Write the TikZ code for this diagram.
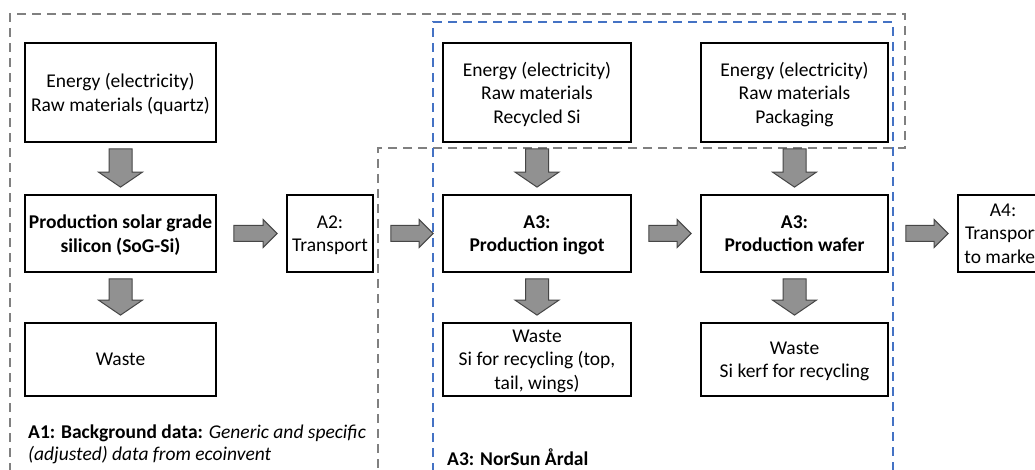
\documentclass[tikz,border=0pt]{standalone}
\usepackage{fontspec}
\setmainfont{Carlito}
\usetikzlibrary{calc}
\definecolor{dgray}{RGB}{128,128,128}
\definecolor{dblue}{RGB}{68,114,196}
\definecolor{afill}{RGB}{145,145,145}
\definecolor{aline}{RGB}{70,70,70}
\tikzset{
  box/.style={draw=black,line width=1.8pt,align=center,inner sep=0pt,
    font=\fontsize{19.5}{23.5}\selectfont, text depth=-1pt},
  inbox/.style={box,minimum height=99pt},
  midbox/.style={box,minimum height=77pt},
  wbox/.style={box,minimum height=73pt},
  grayframe/.style={draw=dgray,line width=1.6pt,dash pattern=on 9pt off 6pt},
  blueframe/.style={draw=dblue,line width=1.6pt,dash pattern=on 9pt off 6pt},
  barrow/.style={fill=afill,draw=aline,line width=1pt,line join=miter},
  lbl/.style={anchor=west,align=left,inner sep=0pt,font=\fontsize{19.5}{22}\selectfont}
}
\newcommand\downarr[2]{%
  \draw[barrow] let \p1=($(#1.south)+(0,6)$), \p2=($(#2.north)+(0,-7)$) in
   (\x1-11.5pt,\y1) -- (\x1+11.5pt,\y1) -- (\x1+11.5pt,\y2+15pt) -- (\x1+22pt,\y2+15pt)
   -- (\x1,\y2) -- (\x1-22pt,\y2+15pt) -- (\x1-11.5pt,\y2+15pt) -- cycle;}
\newcommand\rightarr[2]{%
  \draw[barrow] let \p1=($(#1.east)+(17,0)$), \p2=($(#2.west)+(-9,0)$) in
   (\x1,\y1+8pt) -- (\x2-14pt,\y1+8pt) -- (\x2-14pt,\y1+14pt) -- (\x2,\y1)
   -- (\x2-14pt,\y1-14pt) -- (\x2-14pt,\y1-8pt) -- (\x1,\y1-8pt) -- cycle;}
\begin{document}
\begin{tikzpicture}[x=1pt,y=-1pt]
\useasboundingbox (0,0) rectangle (1035,470);
\clip (0,0) rectangle (1035,470);
\fill[white] (0,0) rectangle (1035,470);
% frames
\draw[grayframe] (10,472) -- (10,14) -- (905,14) -- (905,148) -- (378,148) -- (378,472);
\draw[blueframe] (433,472) -- (433,22) -- (893,22) -- (893,472);
% nodes
\node[inbox,minimum width=191pt] (in1) at (120.5,92.5) {Energy (electricity)\\Raw materials (quartz)};
\node[midbox,minimum width=191pt] (sog) at (120.5,233.5) {\bfseries Production solar grade\\\bfseries silicon (SoG-Si)};
\node[wbox,minimum width=191pt] (w1) at (120.5,359.5) {Waste};
\node[midbox,minimum width=86pt] (a2) at (330,233.5) {A2:\\Transport};
\node[inbox,minimum width=188pt] (in2) at (537,92.5) {Energy (electricity)\\Raw materials\\Recycled Si};
\node[midbox,minimum width=188pt] (ing) at (537,233.5) {\bfseries A3:\\\bfseries Production ingot};
\node[wbox,minimum width=188pt] (w2) at (537,359.5) {Waste\\Si for recycling (top,\\tail, wings)};
\node[inbox,minimum width=187pt] (in3) at (794.5,92.5) {Energy (electricity)\\Raw materials\\Packaging};
\node[midbox,minimum width=187pt] (waf) at (794.5,233.5) {\bfseries A3:\\\bfseries Production wafer};
\node[wbox,minimum width=187pt] (w3) at (794.5,359.5) {Waste\\Si kerf for recycling};
\node[midbox,minimum width=90pt] (a4) at (1003,233.5) {A4:\\Transport\\to market};
% arrows
\downarr{in1}{sog}
\downarr{sog}{w1}
\downarr{in2}{ing}
\downarr{ing}{w2}
\downarr{in3}{waf}
\downarr{waf}{w3}
\rightarr{sog}{a2}
\rightarr{a2}{ing}
\rightarr{ing}{waf}
\rightarr{waf}{a4}
% labels
\node[lbl] (l1) at (28,444) {\textbf{A1: Background data:} \textit{Generic and specific}\\\textit{(adjusted) data from ecoinvent}};
\node[lbl] (l3) at (447,457) {\textbf{A3: NorSun Årdal}};
\end{tikzpicture}
\end{document}
